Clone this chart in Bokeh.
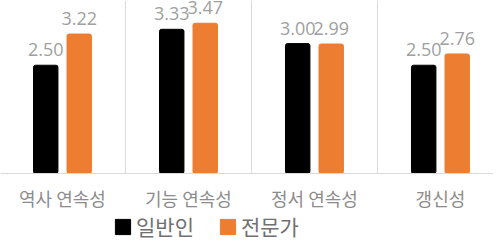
from bokeh.plotting import figure
from bokeh.models import (ColumnDataSource, Range1d, LabelSet, Span,
                          Legend, LegendItem)
from bokeh.core.properties import value
from bokeh.embed import file_html
from bokeh.resources import INLINE

categories = ["역사 연속성", "기능 연속성", "정서 연속성", "갱신성"]
general = [2.50, 3.33, 3.00, 2.50]
expert = [3.22, 3.47, 2.99, 2.76]
series_names = ["일반인", "전문가"]
colors = ["#000000", "#ED7D31"]

idx = list(range(len(categories)))
dodge = 0.133
bar_w = 0.194
y_top = 3.995

src_g = ColumnDataSource(dict(x=[i - dodge for i in idx], y=general,
                              t=["%.2f" % v for v in general]))
src_e = ColumnDataSource(dict(x=[i + dodge for i in idx], y=expert,
                              t=["%.2f" % v for v in expert]))
src_c = ColumnDataSource(dict(x=idx, y=[0] * len(idx), t=categories))
bounds = [i + 0.5 for i in idx[:-1]]

p = figure(width=493, height=241, output_backend="svg", toolbar_location=None,
           x_range=Range1d(-0.492, 3.421), y_range=Range1d(-1.570, y_top),
           x_axis_location=None, y_axis_location=None,
           min_border_left=0, min_border_right=0,
           min_border_top=0, min_border_bottom=0)
p.outline_line_color = None
p.background_fill_color = "white"
p.border_fill_color = "white"
p.grid.visible = False

# category separators and baseline
p.segment(x0=bounds, x1=bounds, y0=[0] * len(bounds), y1=[y_top] * len(bounds),
          line_color="#d9d9d9", line_width=1)
p.add_layout(Span(location=0, dimension="width", line_color="#d9d9d9",
                  line_width=1))

r1 = p.vbar(x="x", top="y", width=bar_w, source=src_g, color=colors[0],
            border_radius=2)
r2 = p.vbar(x="x", top="y", width=bar_w, source=src_e, color=colors[1],
            border_radius=2)

for s in (src_g, src_e):
    p.add_layout(LabelSet(x="x", y="y", text="t", source=s, text_align="center",
                          text_baseline="alphabetic", y_offset=9,
                          text_font=value("Open Sans"), text_font_size="18px",
                          text_color="#a0a0a0"))

p.add_layout(LabelSet(x="x", y="y", text="t", source=src_c, text_align="center",
                      text_baseline="top", y_offset=-11,
                      text_font=value("Noto Sans CJK KR"), text_font_size="18px",
                      text_color="#8c8c8c"))

legend = Legend(items=[LegendItem(label=series_names[0], renderers=[r1]),
                       LegendItem(label=series_names[1], renderers=[r2])],
                orientation="horizontal", location=(113, 0),
                border_line_color=None, background_fill_alpha=0,
                glyph_width=19, glyph_height=19, label_standoff=4, spacing=24,
                padding=0, margin=0,
                label_text_font="Noto Sans CJK KR", label_text_font_size="21px",
                label_text_color="#707070")
p.add_layout(legend)

open("out.html", "w").write(file_html(p, INLINE))
